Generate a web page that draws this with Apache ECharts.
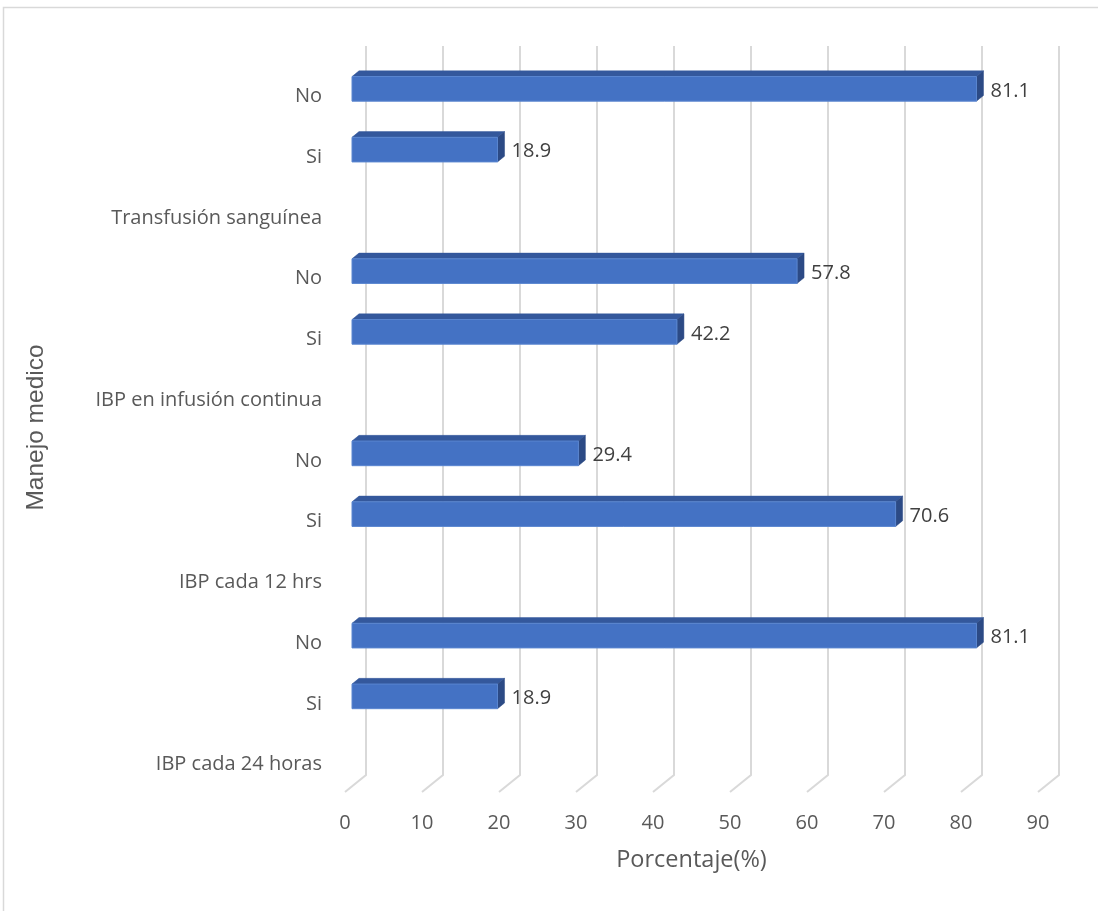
<!DOCTYPE html>
<html>
<head>
<meta charset="utf-8">
<script src="https://cdn.jsdelivr.net/npm/echarts@6/dist/echarts.min.js"></script>
<style>
html,body{margin:0;padding:0;background:#fff;}
#chart{width:1098px;height:911px;}
</style>
</head>
<body>
<div id="chart"></div>
<script>
// Categories listed bottom to top
const categories = ['IBP cada 24 horas','Si','No','IBP cada 12 hrs','Si','No','IBP en infusión continua','Si','No','Transfusión sanguínea','Si','No'];
const values = [null,18.9,81.1,null,70.6,29.4,null,42.2,57.8,null,18.9,81.1];
const ticks = [0,10,20,30,40,50,60,70,80,90];
const xTitle = 'Porcentaje(%)';
const yTitle = 'Manejo medico';

const barData = [];
values.forEach(function(v, i){ if (v !== null) barData.push([v, i]); });
const gridData = ticks.map(function(t){ return [t, 0]; });

const DX = 21, DY = 17;           // full depth of the 3D box
const BX = 7, BY = 5.7;           // depth of a bar
const FX = 7, FY = -4.5;          // bar front face offset from front plane

const chart = echarts.init(document.getElementById('chart'));
chart.setOption({
  animation: false,
  backgroundColor: '#ffffff',
  graphic: [{
    type: 'rect', shape: {x: 3.5, y: 7.5, width: 1200, height: 1000},
    style: {fill: 'none', stroke: '#d9d9d9', lineWidth: 1.5}, silent: true, z: -10
  }],
  grid: {left: 345, top: 63, width: 693, height: 729, containLabel: false},
  xAxis: {
    type: 'value', min: 0, max: 90, interval: 10,
    axisLine: {show: false}, axisTick: {show: false}, splitLine: {show: false},
    axisLabel: {color: '#595959', fontFamily: 'Open Sans', fontSize: 20, margin: 21},
    name: xTitle, nameLocation: 'middle', nameGap: 56,
    nameTextStyle: {color: '#595959', fontFamily: 'Open Sans', fontSize: 23.5}
  },
  yAxis: {
    type: 'category', data: categories,
    axisLine: {show: false}, axisTick: {show: false}, splitLine: {show: false},
    axisLabel: {color: '#595959', fontFamily: 'Open Sans', fontSize: 20, margin: 23,
      formatter: function(v){ return '{a|' + v + '}'; },
      rich: {a: {color: '#595959', fontFamily: 'Open Sans', fontSize: 20, padding: [6, 0, 0, 0]}}},
    name: yTitle, nameLocation: 'middle', nameGap: 296,
    nameTextStyle: {color: '#595959', fontFamily: 'Liberation Sans', fontSize: 24.5}
  },
  series: [{
    type: 'custom', data: gridData, z: 1, silent: true,
    encode: {x: 0, y: 1},
    renderItem: function(params, api){
      const t = api.value(0);
      const band = api.size([0, 1])[1];
      const pb = api.coord([t, 0]);
      const pt = api.coord([t, categories.length - 1]);
      const x = pb[0];
      const yb = pb[1] + band / 2;
      const yt = pt[1] - band / 2;
      return {
        type: 'polyline',
        shape: {points: [[x + DX, yt - DY], [x + DX, yb - DY], [x, yb]]},
        style: {stroke: '#d9d9d9', lineWidth: 2, fill: null}
      };
    }
  }, {
    type: 'custom', data: barData, z: 2, silent: true,
    encode: {x: 0, y: 1},
    renderItem: function(params, api){
      const v = api.value(0), c = api.value(1);
      const band = api.size([0, 1])[1];
      const p0 = api.coord([0, c]);
      const p1 = api.coord([v, c]);
      const h = band * 0.405;
      const x0 = p0[0] + FX, x1 = p1[0] + FX;
      const yt = p0[1] + FY - h / 2, yb = yt + h;
      return {
        type: 'group',
        children: [{
          type: 'polygon',
          shape: {points: [[x0, yt], [x0 + BX, yt - BY], [x1 + BX, yt - BY], [x1, yt]]},
          style: {fill: '#34589c', stroke: '#34589c', lineWidth: 0.5}
        }, {
          type: 'polygon',
          shape: {points: [[x1, yt], [x1 + BX, yt - BY], [x1 + BX, yb - BY], [x1, yb]]},
          style: {fill: '#2c4a85', stroke: '#2c4a85', lineWidth: 0.5}
        }, {
          type: 'rect',
          shape: {x: x0, y: yt, width: x1 - x0, height: h},
          style: {fill: '#4472c4', stroke: '#5a86d0', lineWidth: 1}
        }, {
          type: 'text',
          style: {
            x: x1 + BX + 7, y: (yt + yb) / 2 + 2,
            text: v.toFixed(1), fill: '#404040',
            font: '20px "Open Sans"', align: 'left', verticalAlign: 'middle'
          }
        }]
      };
    }
  }]
});
</script>
</body>
</html>
